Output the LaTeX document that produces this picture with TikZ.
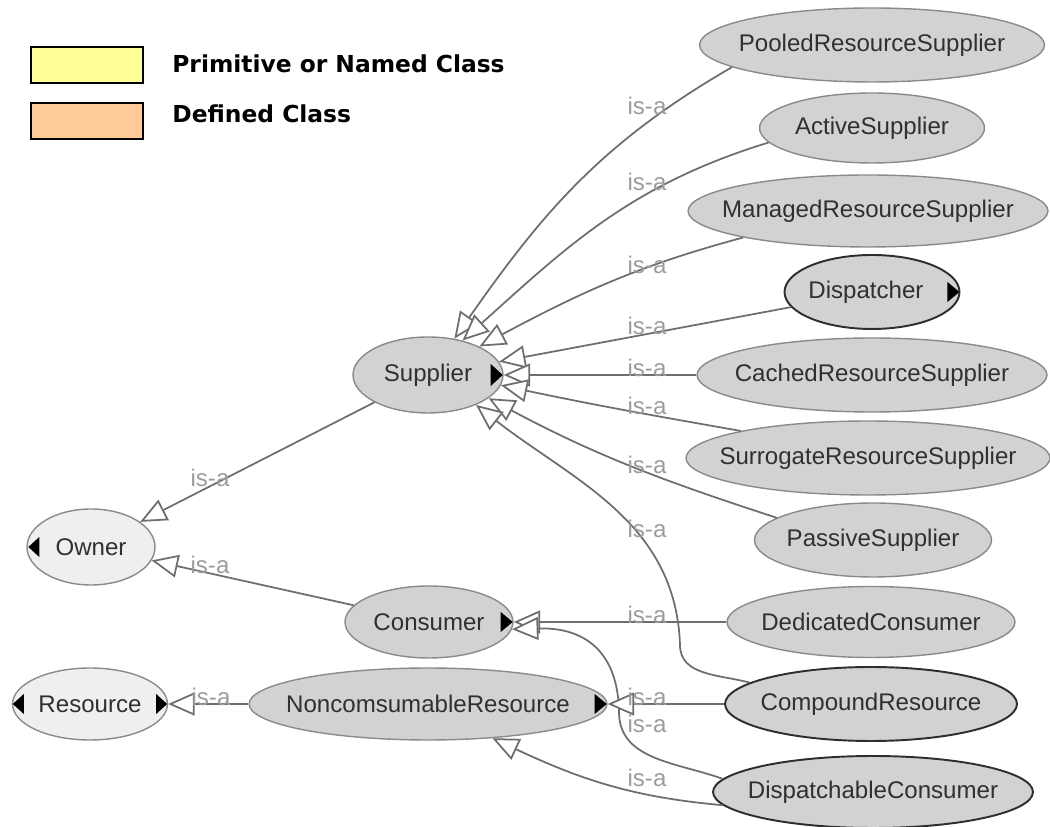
\documentclass[tikz,border=0pt]{standalone}
\usepackage{fontspec}
\setmainfont{Liberation Sans}
\newfontfamily\legendfont{DejaVu Sans}
\usetikzlibrary{arrows.meta,shapes.geometric,calc}

\definecolor{edgegray}{HTML}{6E6E6E}
\definecolor{labelgray}{HTML}{9C9C9C}
\definecolor{classfill}{HTML}{D2D2D2}
\definecolor{rootfill}{HTML}{EFEFEF}
\definecolor{nodeborder}{HTML}{8A8A8A}
\definecolor{darkborder}{HTML}{2E2E2E}
\definecolor{nodetext}{HTML}{303030}
\definecolor{primfill}{HTML}{FFFF99}
\definecolor{deffill}{HTML}{FFCC99}

% class names are set in a zero-width box so the ellipse size comes only from the style
\newcommand\clsname[1]{\makebox[0pt]{#1}}

\begin{document}
\begin{tikzpicture}[x=0.02cm,y=0.02cm,
  cls/.style={ellipse, draw=nodeborder, line width=0.8pt, fill=classfill,
    inner sep=0pt, text=nodetext, font=\fontsize{13.7}{16}\selectfont},
  darkcls/.style={cls, draw=darkborder, line width=1.1pt},
  rootcls/.style={cls, fill=rootfill},
  isa/.style={draw=edgegray, line width=1pt,
    -{Triangle[length=15pt,width=13pt,fill=white]}},
  lbl/.style={anchor=base, text=labelgray, inner sep=0pt,
    font=\fontsize{13.7}{16}\selectfont},
  marker/.style={fill=black},
  legendbox/.style={draw=black, line width=0.9pt},
  legendtext/.style={anchor=base west, inner sep=0pt,
    font=\legendfont\bfseries\fontsize{13.3}{15}\selectfont}]

\useasboundingbox (0,0) rectangle (1050,827);

% legend
\draw[legendbox, fill=primfill] (31,744) rectangle (143,780);
\draw[legendbox, fill=deffill]  (31,688) rectangle (143,724);
\node[legendtext] (legprim) at (172,754.5) {Primitive or Named Class};
\node[legendtext] (legdef)  at (172,704) {Defined Class};

% subclasses of Supplier and the rest of the right column
\node[cls, minimum width=6.9cm,  minimum height=1.48cm] (pool)    at (872,782) {\clsname{PooledResourceSupplier}};
\node[cls, minimum width=4.5cm,  minimum height=1.4cm]  (active)  at (872,699) {\clsname{ActiveSupplier}};
\node[cls, minimum width=7.2cm,  minimum height=1.44cm] (managed) at (868,616) {\clsname{ManagedResourceSupplier}};
\node[darkcls, minimum width=3.5cm, minimum height=1.48cm] (disp) at (872,535) {\clsname{Dispatcher\hspace{0.5em}}};
\node[cls, minimum width=7.0cm,  minimum height=1.48cm] (cached)  at (872,452) {\clsname{CachedResourceSupplier}};
\node[cls, minimum width=7.28cm, minimum height=1.48cm] (surr)    at (868,369) {\clsname{SurrogateResourceSupplier}};
\node[cls, minimum width=4.74cm, minimum height=1.48cm] (passive) at (873,287) {\clsname{PassiveSupplier}};
\node[cls, minimum width=5.76cm, minimum height=1.42cm] (dedic)   at (871,205) {\clsname{DedicatedConsumer}};
\node[darkcls, minimum width=5.84cm, minimum height=1.48cm] (comp)  at (871,123) {\clsname{CompoundResource}};
\node[darkcls, minimum width=6.4cm,  minimum height=1.44cm] (dispc) at (873,35)  {\clsname{DispatchableConsumer}};

% middle and left columns
\node[cls, minimum width=3.0cm,  minimum height=1.52cm] (sup)   at (428,452) {\clsname{Supplier}};
\node[cls, minimum width=3.36cm, minimum height=1.44cm] (cons)  at (429,205) {\clsname{Consumer}};
\node[cls, minimum width=7.16cm, minimum height=1.44cm] (nonc)  at (428,123) {\clsname{NoncomsumableResource}};
\node[rootcls, minimum width=2.56cm, minimum height=1.52cm] (owner) at (91,280)  {\clsname{Owner}};
\node[rootcls, minimum width=3.1cm,  minimum height=1.44cm] (res)   at (90,123)  {\clsname{Resource}};

% is-a edges into Supplier
\draw[isa] (pool.189) to[out=210, in=55] (sup.54);
\node[lbl] (l1) at (647,712) {is-a};
\draw[isa] (active.188) to[out=197, in=42] (sup.45);
\node[lbl] (l2) at (647,636) {is-a};
\draw[isa] (managed.192) to[out=195, in=28] (sup.29);
\node[lbl] (l3) at (647,553) {is-a};
\draw[isa] (disp) -- (sup);
\node[lbl] (l4) at (647,492) {is-a};
\draw[isa] (cached) -- (sup);
\node[lbl] (l5) at (647,450) {is-a};
\draw[isa] (surr.168) to[out=170, in=-12] (sup.-8);
\node[lbl] (l6) at (647,412) {is-a};
\draw[isa] (passive.167) to[out=162, in=-28] (sup.-21);
\node[lbl] (l7) at (647,353) {is-a};
\draw[isa] (comp.170) to[out=165, in=-90] (680,182) to[out=92, in=-38] (sup.-32);
\node[lbl] (l8) at (647,289) {is-a};

% is-a edges into Owner
\draw[isa] (sup) -- (owner);
\node[lbl] (l9) at (210,340) {is-a};
\draw[isa] (cons) -- (owner);
\node[lbl] (l10) at (210,253) {is-a};

% is-a edges into Consumer
\draw[isa] (dedic) -- (cons);
\node[lbl] (l11) at (647,203) {is-a};
\draw[isa] (dispc.175) to[out=160, in=-90] (619,115)
  .. controls (618,175) and (585,200) .. (cons.-5);
\node[lbl] (l13) at (647,94) {is-a};

% is-a edges into NoncomsumableResource and Resource
\draw[isa] (comp) -- (nonc);
\node[lbl] (l12) at (647,121) {is-a};
\draw[isa] (dispc.185) to[out=175, in=-25] (nonc.-28);
\node[lbl] (l14) at (647,40) {is-a};
\draw[isa] (nonc) -- (res);
\node[lbl] (l15) at (211,121) {is-a};

% expand/collapse markers inside the ellipses
\fill[marker] ($(sup.east)+(-1,0)$) -- ++(-12,11) -- ++(0,-22) -- cycle;
\fill[marker] ($(cons.east)+(-1,0)$) -- ++(-12,10) -- ++(0,-20) -- cycle;
\fill[marker] ($(nonc.east)+(-1,0)$) -- ++(-12,10) -- ++(0,-20) -- cycle;
\fill[marker] ($(disp.east)+(-1,0)$) -- ++(-12,10) -- ++(0,-20) -- cycle;
\fill[marker] ($(res.east)+(-1,0)$) -- ++(-11,10) -- ++(0,-20) -- cycle;
\fill[marker] ($(res.west)+(1,0)$) -- ++(11,10) -- ++(0,-20) -- cycle;
\fill[marker] ($(owner.west)+(2,0)$) -- ++(11,10) -- ++(0,-20) -- cycle;

\end{tikzpicture}
\end{document}
